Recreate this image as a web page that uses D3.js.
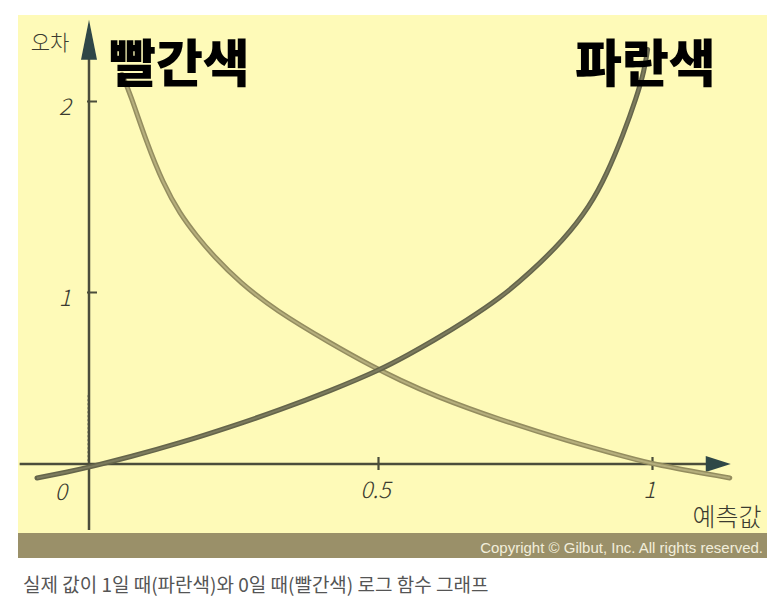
<!DOCTYPE html>
<html><head><meta charset="utf-8">
<script src="https://cdn.jsdelivr.net/npm/d3@7"></script>
<style>
html,body{margin:0;padding:0;background:#fff;}
svg{display:block;}
</style></head>
<body>
<svg id="c" width="767" height="610"></svg>
<script>
// ---- data ----
const xTicks = [0.5, 1];
const xTickLabels = ["0.5", "1"];
const yTicks = [1, 2];
const yTickLabels = ["1", "2"];
const originLabel = "0";
const xAxisTitle = "예측값";
const yAxisTitle = "오차";
const redLabel = "빨간색";
const blueLabel = "파란색";
// 빨간색 curve (actual value 0)
const redX = [0.057, 0.071, 0.100, 0.128, 0.157, 0.187, 0.215, 0.261, 0.322, 0.417, 0.491, 0.540, 0.600, 0.723, 0.845, 0.965, 1.000, 1.142];
const redY = [2.14, 2.04, 1.78, 1.57, 1.41, 1.29, 1.19, 1.05, 0.895, 0.703, 0.565, 0.488, 0.400, 0.256, 0.135, 0.030, 0.0, -0.081];
// 파란색 curve (actual value 1)
const blueX = [-0.090, -0.038, 0.002, 0.071, 0.157, 0.244, 0.330, 0.417, 0.504, 0.558, 0.600, 0.662, 0.723, 0.777, 0.838, 0.887, 0.918, 0.947, 0.972, 0.986, 0.992];
const blueY = [-0.081, -0.047, -0.017, 0.041, 0.122, 0.215, 0.314, 0.425, 0.547, 0.640, 0.715, 0.835, 0.965, 1.10, 1.27, 1.45, 1.62, 1.82, 2.02, 2.16, 2.27];
const copyright = "Copyright © Gilbut, Inc. All rights reserved.";
const caption = "실제 값이 1일 때(파란색)와 0일 때(빨간색) 로그 함수 그래프";

// ---- drawing ----
const svg = d3.select("#c");
const x = d3.scaleLinear().domain([0, 0.5, 1]).range([89, 378, 652]);
const y = d3.scaleLinear().domain([0, 1, 2]).range([464, 292, 101]);

const axisCol = "#4b4d3b";
const arrowCol = "#2f4747";
const handFont = "'Noto Sans CJK KR', 'Noto Sans', sans-serif";
const handCol = "#3b3b30";

// panel
svg.append("rect").attr("x", 18).attr("y", 15).attr("width", 749).attr("height", 518).attr("fill", "#fefab8");
svg.append("rect").attr("x", 18).attr("y", 533).attr("width", 749).attr("height", 25).attr("fill", "#9a9069");

// faint dashed guide near y axis
svg.append("line").attr("x1", x(0) - 1.5).attr("x2", x(0) - 1.5).attr("y1", y(0.4)).attr("y2", y(0))
  .attr("stroke", "#8d8d78").attr("stroke-width", 1).attr("stroke-dasharray", "2,2").attr("opacity", 0.6);

// axes lines
const xMin = -0.12, xMax = 1.12, yMin = -0.384, yMax = 2.30;
svg.append("line").attr("x1", x(xMin)).attr("x2", x(xMax)).attr("y1", y(0)).attr("y2", y(0))
  .attr("stroke", axisCol).attr("stroke-width", 2.5);
svg.append("line").attr("x1", x(0)).attr("x2", x(0)).attr("y1", y(yMin)).attr("y2", y(yMax))
  .attr("stroke", axisCol).attr("stroke-width", 2.5);
// arrowheads
const ax = x(xMax), ay = y(0);
svg.append("path").attr("d", `M${ax - 12},${ay - 8}L${ax + 13},${ay}L${ax - 12},${ay + 8}Z`).attr("fill", arrowCol);
const tx = x(0), ty = y(yMax);
svg.append("path").attr("d", `M${tx - 8},${ty + 16}L${tx},${ty - 24}L${tx + 8},${ty + 16}Z`).attr("fill", arrowCol);

// ticks via d3 axes
const gx = svg.append("g").attr("transform", `translate(0,${y(0) + 6})`)
  .call(d3.axisBottom(x).tickValues(xTicks).tickSize(-13).tickFormat((d, i) => xTickLabels[i]));
gx.select(".domain").remove();
gx.selectAll(".tick line").attr("stroke", axisCol).attr("stroke-width", 2.2);
gx.selectAll(".tick text").attr("font-family", handFont).attr("font-style", "italic").attr("font-weight", 300)
  .attr("font-size", 23).attr("fill", handCol).attr("dy", "0.55em").attr("y", 15).attr("dx", -3);

const gy = svg.append("g").attr("transform", `translate(${x(0) + 8},0)`)
  .call(d3.axisLeft(y).tickValues(yTicks).tickSize(10).tickFormat((d, i) => yTickLabels[i]));
gy.select(".domain").remove();
gy.selectAll(".tick line").attr("stroke", axisCol).attr("stroke-width", 2);
gy.selectAll(".tick text").attr("font-family", handFont).attr("font-style", "italic").attr("font-weight", 300)
  .attr("font-size", 23).attr("fill", handCol).attr("x", -26).attr("dy", "0.6em");

svg.append("text").attr("x", x(0) - 28).attr("y", y(0) + 36).attr("text-anchor", "middle")
  .attr("font-family", handFont).attr("font-style", "italic").attr("font-weight", 300)
  .attr("font-size", 23).attr("fill", handCol).text(originLabel);

// axis titles
svg.append("text").attr("x", 50).attr("y", 50).attr("text-anchor", "middle")
  .attr("font-family", handFont).attr("font-weight", 300).attr("font-size", 21).attr("fill", handCol).text(yAxisTitle);
svg.append("text").attr("x", 727).attr("y", 526).attr("text-anchor", "middle")
  .attr("font-family", handFont).attr("font-weight", 300).attr("font-size", 25).attr("fill", handCol).text(xAxisTitle);

// curves
const line = d3.line().x(d => x(d[0])).y(d => y(d[1])).curve(d3.curveBasis);
const redPts = redX.map((v, i) => [v, redY[i]]);
const bluePts = blueX.map((v, i) => [v, blueY[i]]);
svg.append("path").attr("d", line(redPts)).attr("fill", "none").attr("stroke", "#948d5f").attr("stroke-width", 5).attr("stroke-linecap", "round");
svg.append("path").attr("d", line(redPts)).attr("fill", "none").attr("stroke", "#b5ae7d").attr("stroke-width", 2);
svg.append("path").attr("d", line(bluePts)).attr("fill", "none").attr("stroke", "#65654a").attr("stroke-width", 5).attr("stroke-linecap", "round");
svg.append("path").attr("d", line(bluePts)).attr("fill", "none").attr("stroke", "#7c7b5e").attr("stroke-width", 2);

// big labels
svg.append("text").attr("x", 109).attr("y", 82).attr("font-family", "'Noto Sans CJK KR', sans-serif")
  .attr("font-weight", 900).attr("font-size", 51).attr("fill", "#000").text(redLabel);
svg.append("text").attr("x", 575).attr("y", 82).attr("font-family", "'Noto Sans CJK KR', sans-serif")
  .attr("font-weight", 900).attr("font-size", 51).attr("fill", "#000").text(blueLabel);

// copyright
svg.append("text").attr("x", 763).attr("y", 553).attr("text-anchor", "end")
  .attr("font-family", "'Liberation Sans', Arial, sans-serif").attr("font-size", 15).attr("fill", "#f2eedb").text(copyright);

// caption
svg.append("text").attr("x", 23).attr("y", 592)
  .attr("font-family", "'Noto Sans CJK KR', sans-serif").attr("font-size", 19).attr("fill", "#555").text(caption);
</script>
</body></html>
